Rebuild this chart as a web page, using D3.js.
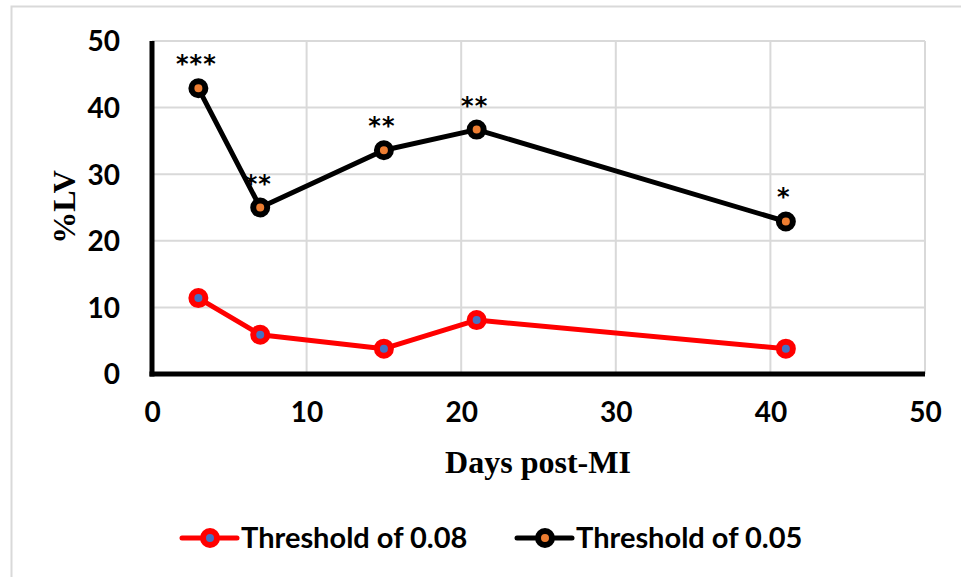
<!DOCTYPE html>
<html>
<head>
<meta charset="utf-8">
<script src="https://cdn.jsdelivr.net/npm/d3@7/dist/d3.min.js"></script>
<style>
  html, body { margin: 0; padding: 0; background: #fff; }
  svg { display: block; }
</style>
</head>
<body>
<svg id="chart" width="961" height="577"></svg>
<script>
// Days after myocardial infarction
const days = [3, 7, 15, 21, 41];
// %LV above threshold
const threshold008 = [11.4, 5.9, 3.8, 8.1, 3.8];
const threshold005 = [42.9, 25.0, 33.6, 36.7, 22.9];
// significance marks over the 0.05 series
const significance = ["***", "**", "**", "**", "*"];
const xTicks = [0, 10, 20, 30, 40, 50];
const yTicks = [0, 10, 20, 30, 40, 50];
const seriesNames = ["Threshold of 0.08", "Threshold of 0.05"];

const svg = d3.select("#chart");

// outer chart frame
svg.append("rect")
  .attr("x", 11.5).attr("y", 6.5)
  .attr("width", 1000).attr("height", 1000)
  .attr("fill", "none").attr("stroke", "#d9d9d9").attr("stroke-width", 2);

const plotLeft = 152, plotRight = 925, plotTop = 41, plotBottom = 374;
const x = d3.scaleLinear().domain([0, 50]).range([plotLeft, plotRight]);
const y = d3.scaleLinear().domain([0, 50]).range([plotBottom, plotTop]);

// gridlines
const grid = svg.append("g");
grid.selectAll(".gx").data(xTicks.slice(1)).join("line")
  .attr("x1", d => x(d)).attr("x2", d => x(d))
  .attr("y1", plotTop).attr("y2", plotBottom)
  .attr("stroke", "#d9d9d9").attr("stroke-width", 2);
grid.selectAll(".gy").data(yTicks.slice(1)).join("line")
  .attr("x1", plotLeft).attr("x2", plotRight)
  .attr("y1", d => y(d)).attr("y2", d => y(d))
  .attr("stroke", "#d9d9d9").attr("stroke-width", 2);

// axes
const xAxis = svg.append("g")
  .attr("transform", `translate(0,${plotBottom})`)
  .call(d3.axisBottom(x).tickValues(xTicks).tickSize(0).tickPadding(28));
const yAxis = svg.append("g")
  .attr("transform", `translate(${plotLeft},0)`)
  .call(d3.axisLeft(y).tickValues(yTicks).tickSize(0).tickPadding(32));
[xAxis, yAxis].forEach(g => {
  g.select(".domain").attr("stroke", "#000").attr("stroke-width", 5);
  g.selectAll("text")
    .attr("font-family", "Lato, 'Open Sans', sans-serif")
    .attr("font-weight", "bold")
    .attr("font-size", 28)
    .attr("fill", "#000");
});
xAxis.select(".domain").attr("d", `M${plotLeft - 2.5},0H${plotRight}`);
yAxis.select(".domain").attr("d", `M0,${plotTop}V${plotBottom + 2.5}`);
yAxis.selectAll("text").attr("dy", "0.35em");

// axis titles
svg.append("text")
  .attr("x", 538).attr("y", 473)
  .attr("text-anchor", "middle")
  .attr("font-family", "'Liberation Serif', 'Times New Roman', serif")
  .attr("font-weight", "bold").attr("font-size", 32)
  .text("Days post-MI");
svg.append("text")
  .attr("transform", `translate(75,207) rotate(-90)`)
  .attr("text-anchor", "middle")
  .attr("font-family", "'Liberation Serif', 'Times New Roman', serif")
  .attr("font-weight", "bold").attr("font-size", 32)
  .text("%LV");

const series = [
  { name: seriesNames[0], values: threshold008, color: "#ff0000", fill: "#4472c4" },
  { name: seriesNames[1], values: threshold005, color: "#000000", fill: "#ed7d31" }
];

const line = d3.line().x(d => x(d[0])).y(d => y(d[1]));

series.forEach(s => {
  const pts = days.map((d, i) => [d, s.values[i]]);
  svg.append("path")
    .datum(pts)
    .attr("d", line)
    .attr("fill", "none")
    .attr("stroke", s.color)
    .attr("stroke-width", 5)
    .attr("stroke-linejoin", "round");
  svg.append("g").selectAll("circle").data(pts).join("circle")
    .attr("cx", d => x(d[0])).attr("cy", d => y(d[1]))
    .attr("r", 7)
    .attr("fill", s.fill)
    .attr("stroke", s.color)
    .attr("stroke-width", 6);
});

// significance stars
svg.append("g").selectAll("text").data(days).join("text")
  .attr("x", d => x(d) - 2)
  .attr("y", (d, i) => y(threshold005[i]) - 16)
  .attr("text-anchor", "middle")
  .attr("font-family", "'DejaVu Sans', sans-serif")
  .attr("font-weight", "bold")
  .attr("font-size", 24)
  .attr("letter-spacing", 1)
  .text((d, i) => significance[i]);

// legend
const legendItems = [
  { s: series[0], x0: 182 },
  { s: series[1], x0: 517 }
];
const ly = 538;
legendItems.forEach(({ s, x0 }) => {
  const g = svg.append("g");
  g.append("line")
    .attr("x1", x0).attr("x2", x0 + 55)
    .attr("y1", ly).attr("y2", ly)
    .attr("stroke", s.color).attr("stroke-width", 5).attr("stroke-linecap", "round");
  g.append("circle")
    .attr("cx", x0 + 28).attr("cy", ly).attr("r", 7)
    .attr("fill", s.fill).attr("stroke", s.color).attr("stroke-width", 6);
  g.append("text")
    .attr("x", x0 + 59).attr("y", ly)
    .attr("dy", "0.35em")
    .attr("font-family", "Lato, 'Open Sans', sans-serif")
    .attr("font-weight", "bold").attr("font-size", 29)
    .text(s.name);
});
</script>
</body>
</html>
